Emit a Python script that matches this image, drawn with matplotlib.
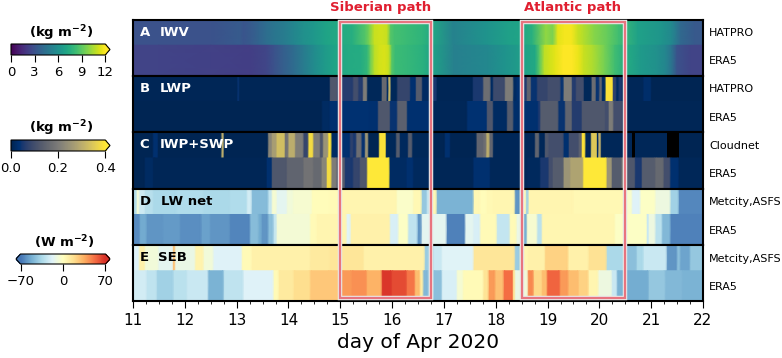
import numpy as np
import matplotlib
matplotlib.use('Agg')
import matplotlib.pyplot as plt
from matplotlib.colors import Normalize, LinearSegmentedColormap
from matplotlib.patches import Rectangle
from matplotlib.cm import ScalarMappable
from matplotlib.ticker import MultipleLocator

# each row: left edge of a segment (day of Apr) and the value from there on
iwv_hatpro_t = [11, 12, 13.03, 13.07, 13.2, 13.35, 13.5, 13.65, 13.84, 14, 14.2, 14.4, 14.6, 14.8, 15.02, 15.45, 15.52, 15.6, 15.72, 15.85, 15.95, 16, 16.1, 16.45, 16.73, 16.8, 17.56, 18.14, 18.4, 18.53, 18.88, 19.05, 19.15, 19.25, 19.4, 19.53, 19.65, 19.75, 20.05, 20.25, 20.5, 21, 21.35, 21.45, 21.7]
iwv_hatpro_v = [3, 3, 3.4, 3.1, 3.4, 3.8, 4.3, 4.7, 5, 5.5, 6, 6.4, 6.9, 7.2, 7.5, 8.8, 9.6, 11, 11.2, 11, 8.8, 8.4, 8.2, 7.8, 7.2, 5.3, 6.2, 6.8, 7, 7.6, 10, 9.6, 11.5, 11.8, 11.8, 11, 10.6, 9.8, 9.2, 8.3, 6.8, 6.3, 5.6, 4, 3.3]

iwv_era5_t = [11, 12, 13, 13.5, 13.65, 13.8, 14, 14.2, 14.4, 14.6, 14.8, 15, 15.3, 15.5, 15.55, 15.63, 15.7, 15.8, 15.9, 15.97, 16.03, 16.1, 16.5, 16.7, 16.8, 17.6, 18.1, 18.3, 18.5, 18.7, 18.82, 18.88, 19, 19.1, 19.2, 19.4, 19.55, 19.65, 19.75, 20, 20.2, 20.4, 20.6, 21, 21.2, 21.35, 21.45, 21.55]
iwv_era5_v = [2.4, 2.3, 2.2, 2.5, 3, 3.6, 4.2, 5, 5.8, 6.5, 7, 7.3, 7.4, 8, 9.5, 10.8, 11.2, 11.3, 11, 8.8, 8.2, 8, 7.6, 7, 5.2, 5.6, 6.2, 6.5, 7, 7.2, 9, 10.8, 11.2, 11.5, 12, 12, 11.6, 11, 10.5, 9.5, 8.3, 7.4, 6.5, 6, 5.5, 4.5, 3, 2.4]

lwp_hatpro_t = [11, 13.02, 13.05, 14.8, 14.95, 15.02, 15.25, 15.35, 15.44, 15.52, 15.8, 15.9, 15.93, 15.97, 16.1, 16.35, 16.46, 16.58, 16.79, 16.86, 17.56, 17.76, 17.9, 17.95, 18.18, 18.34, 18.4, 18.54, 18.6, 18.68, 18.8, 19, 19.25, 19.31, 19.47, 19.55, 19.7, 19.85, 19.93, 20, 20.05, 20.12, 20.26, 20.33, 20.37, 20.44, 20.85, 21]
lwp_hatpro_v = [0.008, 0.04, 0.008, 0.12, 0.03, 0.06, 0.1, 0.06, 0.2, 0.012, 0.16, 0.02, 0.32, 0.012, 0.08, 0.03, 0.13, 0.02, 0.05, 0.008, 0.05, 0.17, 0.02, 0.09, 0.2, 0.02, 0.03, 0.06, 0.15, 0.04, 0.08, 0.1, 0.04, 0.2, 0.06, 0.1, 0.012, 0.17, 0.04, 0.15, 0.02, 0.39, 0.07, 0.02, 0.05, 0.01, 0.025, 0.006]

lwp_era5_t = [11, 14.65, 14.8, 15.02, 15.55, 15.73, 15.96, 16.1, 16.29, 16.75, 17.45, 17.83, 17.95, 18.22, 18.34, 18.54, 18.82, 18.86, 19.21, 19.34, 19.47, 19.66, 20.11, 20.18, 20.27, 20.45]
lwp_era5_v = [0.006, 0.02, 0.03, 0.035, 0.03, 0.12, 0.04, 0.14, 0.03, 0.01, 0.035, 0.12, 0.02, 0.13, 0.025, 0.03, 0.05, 0.13, 0.04, 0.15, 0.06, 0.12, 0.1, 0.2, 0.1, 0.008]

iwp_cloudnet_t = [11, 11.39, 11.48, 12.71, 12.75, 13.61, 13.68, 13.77, 13.93, 14, 14.13, 14.29, 14.385, 14.48, 14.61, 14.67, 14.77, 14.83, 15.02, 15.19, 15.25, 15.31, 15.41, 15.48, 15.54, 15.75, 15.88, 16.08, 16.15, 16.31, 16.39, 16.75, 17.02, 17.12, 17.63, 17.76, 17.82, 17.88, 17.95, 18.76, 18.84, 18.95, 19.02, 19.31, 19.41, 19.6, 19.66, 19.73, 19.84, 19.96, 19.98, 20.03, 20.63, 20.69, 21.31, 21.53]
iwp_cloudnet_v = [0.006, 0.03, 0.006, 0.3, 0.006, 0.22, 0.27, 0.33, 0.18, 0.3, 0.2, 0.08, 0.38, 0.2, 0.12, 0.25, 0.39, 0.02, 0.03, 0.07, 0.05, 0.17, 0.04, 0.25, 0.006, 0.39, 0.012, 0.13, 0.015, 0.13, 0.012, 0.006, 0.03, 0.006, 0.15, 0.17, 0.3, 0.15, 0.01, 0.15, 0.01, 0.12, 0.1, 0.03, 0.1, 0.14, 0.39, 0.01, 0.35, 0.02, 0.3, 0.01, np.nan, 0.01, np.nan, 0.006]

iwp_era5_t = [11, 11.23, 11.39, 13.58, 13.68, 13.97, 14.29, 14.48, 14.64, 14.74, 14.83, 14.93, 15.09, 15.25, 15.38, 15.52, 15.95, 16.28, 16.41, 16.75, 17.57, 17.89, 18.6, 18.86, 19.02, 19.1, 19.31, 19.44, 19.69, 20.14, 20.24, 20.43, 20.5, 20.69, 20.82, 21.08, 21.24, 21.37, 21.53]
iwp_era5_v = [0.006, 0.02, 0.008, 0.03, 0.12, 0.15, 0.18, 0.16, 0.22, 0.38, 0.2, 0.13, 0.05, 0.08, 0.12, 0.42, 0.02, 0.03, 0.015, 0.008, 0.03, 0.01, 0.015, 0.05, 0.1, 0.13, 0.25, 0.28, 0.42, 0.25, 0.13, 0.2, 0.12, 0.05, 0.13, 0.16, 0.1, 0.03, 0.01]

lw_metcity_t = [11, 11.07, 11.12, 11.23, 11.39, 11.84, 12.36, 12.87, 13.2, 13.29, 13.61, 13.68, 13.77, 13.97, 14.09, 14.45, 14.8, 14.96, 16.09, 16.41, 16.57, 16.67, 16.73, 16.86, 17.57, 17.7, 17.83, 17.95, 18.37, 18.47, 18.59, 18.63, 19.5, 20.5, 20.63, 20.79, 21.08, 21.37, 21.53]
lw_metcity_v = [-33, -8, -24, -31, -35, -33, -35, -33, -22, -47, -27, -6, -15, -8, -5, 2, 3, 6, -3, 4, -42, -27, 4, -50, 4, 2, 4, 5, -60, 3, -38, 6, 4, -4, -18, -2, -10, -38, -64]

lw_era5_t = [11, 11.13, 11.26, 11.58, 11.91, 12.32, 12.49, 12.87, 13.26, 13.42, 13.48, 13.61, 13.71, 13.77, 14.42, 14.55, 15.12, 15.2, 15.96, 16.12, 16.31, 16.49, 16.57, 17.05, 17.41, 17.57, 17.7, 18.02, 18.27, 18.4, 18.53, 18.6, 18.8, 18.89, 20.3, 20.92, 20.95, 21.08, 21.21, 21.37]
lw_era5_v = [-63, -53, -60, -58, -62, -56, -60, -65, -46, -52, -60, -45, -27, -7, 3, 6, -17, 8, -20, -2, -28, -60, -15, -66, -15, -20, 3, -27, 3, -12, -52, -5, -30, 5, -2, -25, -10, -30, -48, -66]

seb_metcity_t = [11, 11.12, 11.23, 11.49, 11.78, 11.81, 12.2, 12.36, 12.55, 13.1, 13.29, 14.42, 14.8, 15.45, 16.54, 16.63, 16.7, 16.8, 16.96, 17.57, 18.37, 18.47, 18.63, 18.95, 19.4, 19.79, 20.14, 20.5, 20.72, 20.85, 21.3, 21.5, 21.56, 21.75]
seb_metcity_v = [-18, 8, -8, -15, 28, -12, 7, -8, -18, 3, 8, 12, 14, 8, 8, -40, -35, -25, -17, 14, -40, 5, 8, 22, 8, 16, -35, -45, -35, -25, -60, -45, -55, -42]

seb_era5_t = [11, 11.26, 11.46, 11.78, 12.04, 12.45, 12.75, 13.13, 13.71, 13.81, 14.1, 14.42, 14.8, 15.03, 15.22, 15.51, 15.8, 15.99, 16.28, 16.44, 16.54, 16.6, 16.7, 16.8, 16.96, 17.25, 17.37, 17.76, 17.86, 17.99, 18.15, 18.34, 18.37, 18.5, 18.62, 18.73, 18.89, 18.99, 19.24, 19.4, 19.6, 19.79, 19.98, 20.24, 20.34, 20.5, 20.95, 21.27, 21.6]
seb_era5_v = [-22, -28, -38, -30, -25, -50, -28, -18, 3, 12, 18, 26, 26, 40, 43, 33, 68, 62, 50, 30, 10, -48, -35, -45, -20, -6, 3, 15, 40, 28, 52, 15, -12, -8, 45, 20, 30, 55, 40, 30, 22, 6, -10, -25, -50, -52, -42, -48, -50]

panel_letters = ['A', 'B', 'C', 'D', 'E']
panel_names = ['IWV', 'LWP', 'IWP+SWP', 'LW net', 'SEB']
row_labels = [['HATPRO', 'ERA5'], ['HATPRO', 'ERA5'], ['Cloudnet', 'ERA5'], ['Metcity,ASFS', 'ERA5'], ['Metcity,ASFS', 'ERA5']]
paths = [('Siberian path', 15.0, 16.75, 15.77), ('Atlantic path', 18.5, 20.5, 19.49)]

W, H = 782, 358
SPLIT = 1.08  # the upper row of a panel is a bit shorter


def ax_px(left, top, right, bottom):
    return fig.add_axes([left / W, 1 - bottom / H, (right - left) / W, (bottom - top) / H])


def draw_row(ax, t, v, y0, y1, cmap, norm, soft):
    # plateaus with a short soft edge, gouraud does the blending
    edges = list(t) + [22.0]
    vals = np.array(v, dtype=float)
    good = np.where(np.isnan(vals), 0.01, vals)
    x, c = [], []
    for k in range(len(good)):
        w = edges[k + 1] - edges[k]
        if soft is None:
            x.append(edges[k] + w / 2)
            c.append(good[k])
        else:
            d = min(soft, w / 3)
            x += [edges[k] + d, edges[k + 1] - d]
            c += [good[k], good[k]]
    x = [11.0] + x + [22.0]
    c = [c[0]] + c + [c[-1]]
    ax.pcolormesh(np.array(x), [y0, y1], np.array([c, c]), cmap=cmap, norm=norm, shading='gouraud')
    for k in np.flatnonzero(np.isnan(vals)):
        ax.fill_between([edges[k], edges[k + 1]], y0, y1, color='k', lw=0)


# colormaps
iwv_cmap = plt.get_cmap('viridis').copy()
iwv_cmap.set_over('#fde725')
lwp_cmap = plt.get_cmap('cividis').copy()
lwp_cmap.set_over('#fee838')
seb_cmap = LinearSegmentedColormap.from_list('seb', ['#4575b4', '#74add1', '#abd9e9', '#e0f3f8', '#ffffbf', '#fee090', '#fdae61', '#f46d43', '#d73027'])
seb_cmap.set_under('#4575b4')
seb_cmap.set_over('#d73027')

iwv_norm = Normalize(0, 12)
lwp_norm = Normalize(0, 0.4)
seb_norm = Normalize(-70, 70)

panels = [
    (iwv_hatpro_t, iwv_hatpro_v, iwv_era5_t, iwv_era5_v, iwv_cmap, iwv_norm, None),
    (lwp_hatpro_t, lwp_hatpro_v, lwp_era5_t, lwp_era5_v, lwp_cmap, lwp_norm, 0.015),
    (iwp_cloudnet_t, iwp_cloudnet_v, iwp_era5_t, iwp_era5_v, lwp_cmap, lwp_norm, 0.015),
    (lw_metcity_t, lw_metcity_v, lw_era5_t, lw_era5_v, seb_cmap, seb_norm, 0.02),
    (seb_metcity_t, seb_metcity_v, seb_era5_t, seb_era5_v, seb_cmap, seb_norm, 0.02),
]
panel_tops = [19.5, 75.5, 132, 188.5, 245]
panel_bots = [75.5, 132, 188.5, 245, 301]
text_colors = ['w', 'w', 'w', 'k', 'k']
name_x = [11.51, 11.51, 11.51, 11.54, 11.49]

fig = plt.figure(figsize=(W / 100, H / 100), dpi=100)

for i, p in enumerate(panels):
    ax = ax_px(133, panel_tops[i], 703, panel_bots[i])
    draw_row(ax, p[0], p[1], SPLIT, 2, p[4], p[5], p[6])
    draw_row(ax, p[2], p[3], 0, SPLIT, p[4], p[5], p[6])
    ax.set_xlim(11, 22)
    ax.set_ylim(0, 2)
    ax.yaxis.tick_right()
    ax.set_yticks([1.54, 0.54])
    ax.set_yticklabels(row_labels[i], fontsize=8)
    ax.tick_params(axis='y', length=0, pad=4.5)
    for s in ax.spines.values():
        s.set_linewidth(1.5)
    ax.text(11.13, 1.54, panel_letters[i], color=text_colors[i], fontsize=9.5, fontweight='bold', va='center', ha='left')
    ax.text(name_x[i], 1.54, panel_names[i], color=text_colors[i], fontsize=9.5, fontweight='bold', va='center', ha='left')
    if i < 4:
        ax.set_xticks([])
    else:
        ax.xaxis.set_major_locator(MultipleLocator(1))
        ax.xaxis.set_minor_locator(MultipleLocator(0.25))
        ax.tick_params(axis='x', which='major', labelsize=11, length=5)
        ax.tick_params(axis='x', which='minor', length=2.5)
        ax.set_xlabel('day of Apr 2020', fontsize=14.5, labelpad=4)

# frames of the two paths, on top of all panels
over = ax_px(133, 19.5, 703, 301)
over.set_xlim(11, 22)
over.set_ylim(301, 19.5)
over.axis('off')
over.patch.set_alpha(0)
for name, d0, d1, xc in paths:
    over.add_patch(Rectangle((d0, 21.5), d1 - d0, 276.5, fill=False, ec='#e8e8e8', lw=3.2, clip_on=False))
    over.add_patch(Rectangle((d0, 21.5), d1 - d0, 276.5, fill=False, ec='#e8747f', lw=1.6, clip_on=False))
    over.text(xc, 14, name, color='#e01f30', fontsize=9.5, fontweight='bold', ha='center', va='bottom', clip_on=False)

# colorbars at the left
cbars = [
    (11, 44, 110, 55, iwv_cmap, iwv_norm, 'max', [0, 3, 6, 9, 12], ['0', '3', '6', '9', '12'], '(kg m$\\mathbf{^{-2}}$)', 33),
    (11, 140, 110, 151, lwp_cmap, lwp_norm, 'max', [0, 0.2, 0.4], ['0.0', '0.2', '0.4'], '(kg m$\\mathbf{^{-2}}$)', 128.5),
    (16, 254, 110, 264, seb_cmap, seb_norm, 'both', [-70, 0, 70], ['\u221270', '0', '70'], '(W m$\\mathbf{^{-2}}$)', 242.5),
]
for l, t, r, b, cmap, norm, ext, ticks, labels, title, ty in cbars:
    cax = ax_px(l, t, r, b)
    cb = fig.colorbar(ScalarMappable(norm=norm, cmap=cmap), cax=cax, orientation='horizontal', extend=ext, extendfrac=5 / (r - l))
    cb.set_ticks(ticks)
    cb.set_ticklabels(labels)
    cb.ax.tick_params(labelsize=9.5, length=5, pad=3)
    cb.minorticks_off()
    fig.text(((l + r) / 2 + 1) / W, 1 - ty / H, title, fontsize=9.5, fontweight='bold', ha='center', va='center')

fig.savefig('out.png', dpi=100)
